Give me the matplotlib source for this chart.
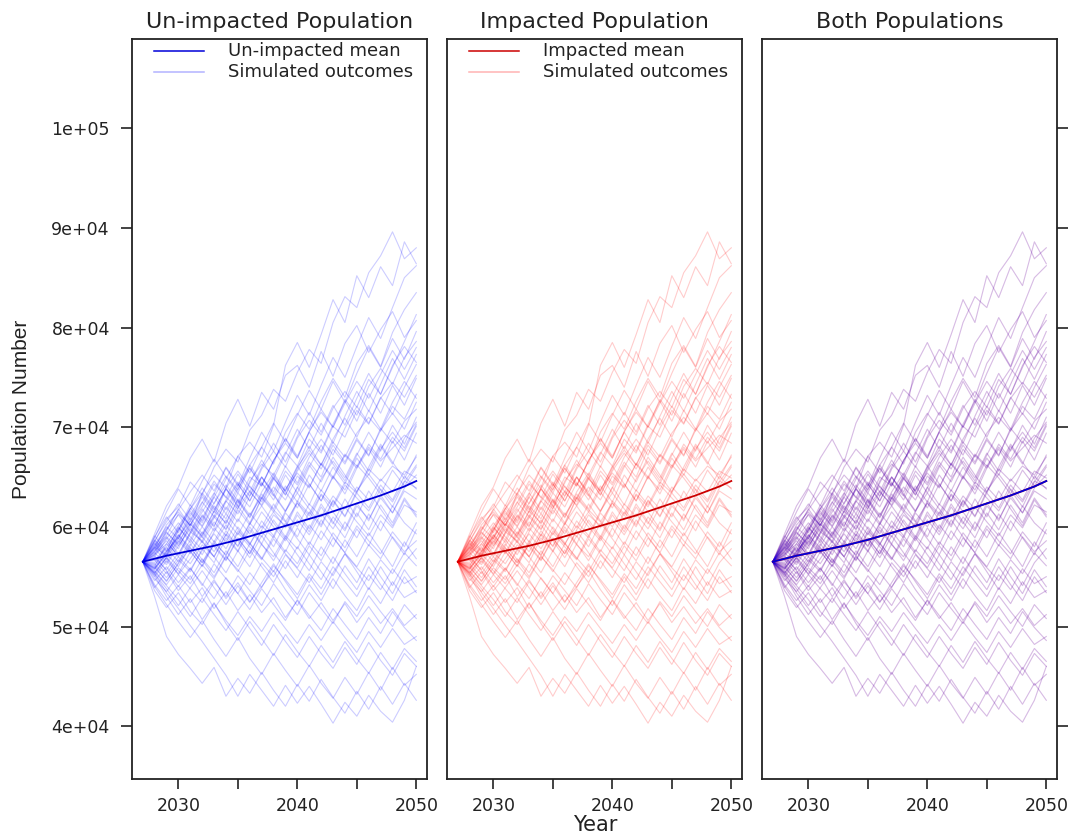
import matplotlib
matplotlib.use("Agg")
import matplotlib.pyplot as plt
import numpy as np
from matplotlib.ticker import FixedLocator, FuncFormatter

# years of the projection
years = list(range(2027, 2051))

# mean trajectories (thousands)
unimpacted_mean = [56.5, 56.8, 57.1, 57.35, 57.6, 57.85, 58.1, 58.4, 58.7, 59.05, 59.4, 59.75,
                   60.1, 60.45, 60.8, 61.15, 61.55, 61.95, 62.35, 62.75, 63.15, 63.6, 64.05, 64.6]
impacted_mean = [56.5, 56.8, 57.1, 57.35, 57.6, 57.85, 58.1, 58.4, 58.7, 59.05, 59.4, 59.75,
                 60.1, 60.45, 60.8, 61.15, 61.55, 61.95, 62.35, 62.75, 63.15, 63.6, 64.05, 64.6]

# simulated outcomes (thousands)
run_01 = [56.5, 58.5, 60.8, 62.0, 64.5, 63.2, 66.0, 67.8, 66.5, 69.7, 71.2, 73.8, 72.6, 75.5, 77.8, 76.4, 80.5, 83.1, 82.0, 85.5, 87.2, 89.6, 86.9, 88.0]
run_02 = [56.5, 59.3, 62.1, 64.0, 66.9, 68.8, 66.5, 70.4, 72.8, 70.1, 73.5, 71.8, 75.2, 76.2, 74.0, 77.6, 75.1, 78.4, 80.2, 77.5, 79.8, 81.6, 79.0, 80.7]
run_03 = [56.5, 57.8, 60.2, 61.5, 60.1, 63.4, 65.2, 63.9, 67.1, 68.5, 67.0, 70.2, 76.2, 78.5, 76.0, 79.3, 82.8, 80.5, 85.2, 83.0, 86.1, 84.2, 88.6, 86.4]
run_04 = [56.5, 58.0, 57.1, 59.6, 61.9, 60.4, 63.0, 65.1, 63.7, 66.2, 68.0, 66.3, 69.5, 71.4, 69.8, 72.6, 74.9, 73.0, 76.4, 78.2, 76.1, 79.5, 81.8, 83.5]
run_05 = [56.5, 57.2, 59.4, 58.3, 60.6, 62.5, 61.0, 63.8, 62.4, 65.0, 64.1, 66.7, 68.4, 66.9, 69.6, 71.5, 70.0, 72.8, 71.2, 74.1, 75.9, 74.3, 77.0, 78.6]
run_06 = [56.5, 55.8, 57.6, 59.9, 58.7, 61.2, 60.0, 62.7, 64.5, 63.1, 65.8, 67.6, 66.0, 68.9, 70.7, 69.2, 71.9, 73.6, 72.0, 74.8, 73.3, 76.2, 78.1, 76.5]
run_07 = [56.5, 57.9, 59.1, 61.3, 60.2, 62.0, 64.3, 63.0, 61.8, 64.6, 66.3, 65.2, 67.5, 66.1, 68.8, 67.4, 70.1, 69.0, 71.7, 70.3, 72.9, 74.5, 73.0, 75.2]
run_08 = [56.5, 56.0, 58.3, 57.2, 59.5, 58.6, 60.9, 62.6, 61.3, 63.5, 62.2, 64.8, 63.6, 66.0, 67.7, 66.2, 68.5, 67.0, 69.4, 71.0, 69.6, 72.1, 70.8, 73.3]
run_09 = [56.5, 58.7, 57.5, 59.0, 61.4, 60.0, 62.1, 60.8, 63.4, 62.0, 64.4, 63.1, 65.6, 64.2, 66.5, 65.0, 67.8, 66.3, 68.7, 67.1, 69.9, 68.4, 70.6, 71.8]
run_10 = [56.5, 57.4, 56.2, 58.1, 59.8, 58.4, 60.5, 59.1, 61.7, 60.2, 62.9, 61.5, 63.8, 65.4, 64.0, 66.3, 64.8, 67.2, 65.9, 68.3, 66.8, 69.0, 67.6, 70.1]
run_11 = [56.5, 55.4, 57.0, 58.6, 57.3, 59.2, 61.0, 59.7, 61.9, 63.6, 62.1, 64.0, 62.7, 65.1, 63.9, 66.4, 65.0, 67.3, 66.1, 68.0, 66.6, 67.9, 69.2, 68.4]
run_12 = [56.5, 56.9, 55.7, 57.4, 56.3, 58.2, 57.0, 59.3, 58.1, 60.4, 59.0, 61.2, 60.1, 62.6, 61.3, 63.7, 62.2, 64.5, 63.4, 65.8, 64.6, 66.1, 65.2, 67.0]
run_13 = [56.5, 58.2, 60.0, 58.8, 61.1, 63.2, 61.7, 63.9, 65.6, 64.0, 62.8, 65.2, 63.5, 61.9, 64.3, 62.6, 65.0, 63.7, 66.2, 64.9, 63.3, 65.7, 64.1, 66.0]
run_14 = [56.5, 55.0, 56.6, 55.3, 57.5, 56.1, 58.4, 57.2, 59.6, 58.3, 60.1, 58.9, 61.4, 60.0, 62.3, 61.0, 63.1, 61.8, 64.0, 62.7, 64.8, 63.5, 65.6, 64.9]
run_15 = [56.5, 57.6, 59.0, 57.8, 60.3, 59.1, 61.6, 60.4, 62.8, 61.2, 63.0, 61.7, 60.5, 62.4, 61.1, 63.3, 62.0, 64.2, 62.9, 61.6, 63.8, 62.5, 64.6, 63.9]
run_16 = [56.5, 56.3, 54.9, 56.7, 55.5, 57.8, 56.4, 58.9, 57.5, 59.7, 58.2, 57.0, 59.1, 57.8, 60.2, 58.7, 61.0, 59.6, 62.1, 60.8, 62.9, 61.4, 63.6, 62.8]
run_17 = [56.5, 57.0, 58.8, 60.4, 59.0, 57.7, 59.9, 58.5, 60.8, 59.3, 61.5, 60.0, 58.6, 60.7, 59.2, 61.3, 59.8, 62.0, 60.5, 59.1, 61.2, 59.9, 62.2, 61.5]
run_18 = [56.5, 55.6, 54.2, 55.9, 54.7, 56.8, 55.4, 57.6, 56.0, 58.3, 56.9, 55.5, 57.7, 56.3, 58.5, 57.1, 59.4, 57.9, 60.1, 58.6, 57.3, 59.5, 58.0, 60.4]
run_19 = [56.5, 58.4, 57.0, 59.2, 57.9, 56.4, 58.6, 57.1, 59.4, 58.0, 56.7, 58.8, 57.3, 55.9, 58.1, 56.6, 58.9, 57.4, 56.0, 58.2, 56.8, 59.0, 57.5, 58.6]
run_20 = [56.5, 55.2, 56.9, 55.6, 54.3, 56.2, 54.8, 57.0, 55.7, 54.2, 56.4, 55.0, 57.2, 55.8, 54.4, 56.5, 55.1, 57.3, 55.9, 54.6, 56.7, 55.3, 57.4, 56.1]
run_21 = [56.5, 54.6, 56.0, 54.4, 55.9, 54.1, 56.3, 54.8, 53.3, 55.4, 53.9, 56.1, 54.7, 53.2, 55.3, 53.8, 56.0, 54.5, 53.0, 55.2, 53.7, 55.8, 54.3, 55.0]
run_22 = [56.5, 53.9, 55.5, 53.6, 55.1, 53.0, 54.7, 52.8, 54.4, 52.5, 54.0, 55.6, 53.7, 52.1, 54.2, 52.6, 54.8, 53.1, 51.6, 53.9, 52.3, 54.5, 52.9, 53.6]
run_23 = [56.5, 54.2, 52.6, 54.1, 52.4, 53.9, 51.8, 53.5, 51.6, 53.2, 51.4, 52.9, 50.9, 52.6, 50.8, 52.4, 50.6, 52.3, 50.4, 52.0, 50.3, 51.8, 50.1, 51.2]
run_24 = [56.5, 53.6, 51.9, 53.4, 51.5, 50.2, 52.3, 50.6, 49.1, 51.0, 49.5, 51.4, 49.8, 48.3, 50.2, 48.6, 50.5, 48.9, 47.4, 49.5, 47.9, 49.8, 48.2, 49.0]
run_25 = [56.5, 55.1, 53.0, 51.2, 52.8, 50.7, 52.4, 50.3, 48.6, 50.5, 48.8, 47.1, 49.2, 47.5, 46.0, 48.1, 46.4, 48.5, 46.8, 45.3, 47.4, 45.7, 47.8, 46.5]
run_26 = [56.5, 54.0, 52.2, 50.5, 48.9, 50.6, 48.7, 47.0, 48.9, 46.8, 45.2, 47.3, 45.6, 44.0, 46.1, 44.3, 42.8, 44.9, 43.2, 45.4, 43.6, 45.9, 44.1, 45.2]
run_27 = [56.5, 55.3, 53.4, 51.8, 50.1, 48.5, 46.8, 45.1, 43.0, 45.2, 43.6, 42.0, 44.1, 42.3, 44.0, 42.2, 40.3, 42.4, 41.0, 43.1, 41.5, 40.4, 42.6, 46.0]
run_28 = [56.5, 53.0, 49.0, 47.2, 45.8, 44.3, 45.9, 43.0, 44.8, 43.3, 45.4, 43.6, 42.0, 44.2, 42.5, 44.7, 42.9, 41.3, 43.5, 41.7, 44.0, 42.2, 44.3, 42.6]
run_29 = [56.5, 58.9, 61.5, 63.8, 62.1, 64.6, 66.8, 65.0, 63.4, 65.9, 64.2, 66.6, 68.9, 67.1, 69.5, 71.8, 70.0, 72.4, 74.6, 72.9, 75.3, 77.7, 75.8, 78.0]
run_30 = [56.5, 57.3, 58.6, 57.0, 59.3, 61.1, 59.6, 62.0, 60.5, 63.1, 65.0, 63.5, 66.1, 64.4, 67.0, 68.8, 67.2, 69.9, 72.1, 70.4, 73.0, 71.3, 74.0, 76.3]
run_31 = [56.5, 56.6, 58.0, 59.7, 61.6, 60.1, 62.4, 64.2, 62.6, 60.9, 63.3, 61.8, 64.1, 62.5, 65.2, 63.6, 66.0, 64.3, 66.9, 65.2, 67.8, 69.5, 67.9, 70.3]
run_32 = [56.5, 55.9, 57.3, 56.0, 58.1, 60.0, 58.5, 60.7, 59.2, 61.4, 59.9, 62.3, 60.6, 59.0, 61.5, 60.0, 62.6, 61.0, 63.4, 61.9, 64.2, 62.7, 65.1, 63.8]
run_33 = [56.5, 54.8, 53.5, 55.2, 53.8, 52.4, 54.5, 53.0, 55.1, 53.6, 52.1, 54.3, 52.7, 51.2, 53.4, 51.8, 50.3, 52.5, 51.0, 53.1, 51.5, 50.0, 52.2, 50.8]
run_34 = [56.5, 57.1, 55.6, 54.0, 55.8, 54.3, 52.8, 54.9, 53.3, 51.7, 53.8, 52.2, 50.6, 52.7, 51.1, 49.6, 51.8, 50.2, 48.7, 50.9, 49.3, 51.5, 49.9, 48.6]
run_35 = [56.5, 55.5, 54.1, 52.7, 51.0, 52.9, 51.2, 49.6, 51.5, 49.8, 48.1, 50.2, 48.5, 46.9, 49.0, 47.3, 45.8, 47.9, 46.2, 48.4, 46.6, 45.1, 47.3, 46.0]
run_36 = [56.5, 58.1, 59.8, 61.7, 63.5, 65.2, 63.6, 66.0, 64.3, 62.6, 65.0, 63.2, 61.5, 63.9, 66.2, 64.5, 67.0, 65.2, 63.5, 66.0, 68.3, 66.5, 64.8, 67.2]
run_37 = [56.5, 55.7, 57.4, 59.2, 57.6, 56.0, 58.3, 60.2, 58.6, 56.9, 59.1, 57.4, 55.8, 58.0, 56.3, 54.7, 57.0, 55.3, 53.7, 56.0, 54.2, 52.6, 55.0, 53.4]
run_38 = [56.5, 58.3, 56.7, 58.8, 60.9, 59.3, 61.6, 63.8, 62.0, 64.4, 66.7, 64.8, 67.3, 69.8, 67.8, 70.4, 68.4, 71.1, 73.6, 71.6, 74.3, 76.9, 74.8, 77.3]
run_39 = [56.5, 57.7, 59.5, 58.1, 60.0, 58.5, 57.0, 59.2, 57.6, 60.0, 58.3, 60.7, 59.0, 61.5, 59.8, 62.3, 60.5, 58.9, 61.4, 59.7, 62.2, 60.4, 62.9, 61.2]
run_40 = [56.5, 56.1, 54.5, 56.4, 58.3, 56.7, 55.0, 57.1, 55.5, 57.7, 56.0, 54.4, 56.6, 54.9, 57.2, 55.5, 53.8, 56.1, 54.4, 56.8, 55.0, 53.3, 55.7, 54.0]
run_41 = [56.5, 59.0, 61.0, 59.4, 61.8, 63.9, 62.3, 64.8, 67.1, 65.4, 68.0, 70.4, 68.5, 71.2, 73.7, 71.8, 74.6, 72.5, 75.4, 78.0, 76.0, 78.9, 76.8, 79.6]
run_42 = [56.5, 55.3, 53.8, 52.1, 53.9, 55.6, 53.9, 52.2, 54.1, 52.4, 54.4, 56.3, 54.5, 52.8, 55.0, 53.2, 55.4, 57.3, 55.5, 53.7, 56.0, 54.1, 56.4, 57.8]
run_43 = [56.5, 58.6, 57.2, 59.7, 62.2, 60.6, 63.3, 65.9, 64.1, 66.9, 69.5, 67.6, 70.5, 73.2, 71.2, 74.2, 77.0, 75.0, 78.1, 81.0, 78.9, 82.0, 85.0, 86.2]
run_44 = [56.5, 57.5, 59.6, 61.8, 60.1, 62.4, 64.6, 62.9, 65.3, 63.5, 66.0, 68.4, 66.5, 69.1, 71.5, 69.5, 72.2, 70.2, 72.9, 75.4, 73.3, 76.0, 78.6, 81.3]
run_45 = [56.5, 57.9, 56.4, 58.5, 60.3, 58.9, 61.2, 59.8, 62.3, 64.1, 62.5, 64.9, 63.2, 65.6, 67.4, 65.8, 68.2, 66.5, 68.9, 67.2, 69.7, 71.4, 69.8, 72.5]
run_46 = [56.5, 56.4, 57.9, 56.5, 58.7, 57.2, 59.5, 61.3, 59.8, 58.2, 60.6, 59.1, 61.6, 63.4, 61.8, 60.2, 62.7, 61.1, 63.6, 65.3, 63.7, 62.0, 64.5, 66.2]
run_47 = [56.5, 58.0, 59.7, 61.2, 59.5, 61.8, 60.1, 62.5, 64.3, 62.6, 65.0, 63.3, 61.6, 64.0, 62.2, 64.8, 66.6, 64.9, 67.4, 65.6, 68.1, 66.3, 68.9, 70.5]
run_48 = [56.5, 55.9, 54.6, 56.3, 57.9, 56.4, 58.2, 56.7, 58.9, 57.3, 59.6, 58.0, 60.4, 58.8, 57.2, 59.6, 58.0, 60.5, 58.9, 61.3, 59.6, 62.1, 60.4, 59.3]
run_49 = [56.5, 57.2, 58.3, 60.1, 61.8, 63.4, 61.9, 60.3, 62.7, 61.0, 63.5, 65.4, 63.6, 66.1, 64.3, 62.6, 65.1, 63.3, 65.9, 67.8, 66.0, 68.6, 66.7, 69.4]
run_50 = [56.5, 55.8, 57.2, 58.9, 57.4, 59.5, 58.0, 56.6, 58.8, 57.3, 59.7, 61.5, 59.9, 62.4, 60.7, 63.2, 61.5, 59.8, 62.4, 60.6, 63.2, 61.4, 63.9, 65.2]
run_51 = [56.5, 58.6, 60.5, 62.3, 60.7, 63.0, 61.4, 63.9, 62.1, 60.4, 62.9, 65.0, 63.2, 65.8, 68.1, 66.2, 68.8, 70.9, 69.0, 71.7, 69.8, 72.5, 74.6, 72.9]
run_52 = [56.5, 56.7, 55.3, 57.0, 55.7, 57.6, 59.3, 57.8, 60.0, 58.4, 56.8, 59.1, 57.5, 59.9, 58.2, 60.7, 59.0, 57.4, 59.8, 58.1, 60.6, 58.9, 57.2, 59.7]
run_53 = [56.5, 57.5, 58.9, 57.3, 59.4, 61.5, 63.4, 61.7, 64.1, 66.2, 64.4, 62.7, 65.2, 63.4, 66.0, 68.2, 66.3, 64.6, 67.2, 69.5, 67.6, 70.2, 68.3, 71.0]
run_54 = [56.5, 56.2, 57.5, 59.0, 60.6, 59.0, 57.5, 59.6, 58.0, 60.3, 62.1, 60.4, 58.8, 61.2, 59.5, 62.0, 60.3, 62.8, 61.0, 63.6, 61.8, 60.1, 62.7, 61.0]
run_55 = [56.5, 59.1, 57.6, 60.0, 58.4, 60.9, 63.0, 61.3, 63.8, 65.9, 64.1, 66.6, 68.8, 66.9, 69.5, 67.6, 70.3, 72.6, 70.6, 73.4, 71.4, 74.2, 72.2, 74.9]
run_56 = [56.5, 55.4, 56.9, 55.2, 56.8, 58.6, 57.0, 55.4, 57.6, 56.0, 58.3, 56.6, 58.9, 57.2, 55.6, 58.0, 56.3, 58.7, 57.0, 59.4, 57.7, 56.0, 58.5, 56.8]

runs = [run_01, run_02, run_03, run_04, run_05, run_06, run_07, run_08, run_09, run_10, run_11,
        run_12, run_13, run_14, run_15, run_16, run_17, run_18, run_19, run_20, run_21, run_22,
        run_23, run_24, run_25, run_26, run_27, run_28, run_29, run_30, run_31, run_32, run_33,
        run_34, run_35, run_36, run_37, run_38, run_39, run_40, run_41, run_42, run_43, run_44,
        run_45, run_46, run_47, run_48, run_49, run_50, run_51, run_52, run_53, run_54, run_55,
        run_56]

titles = ["Un-impacted Population", "Impacted Population", "Both Populations"]
y_ticks = [40000, 50000, 60000, 70000, 80000, 90000, 100000]
x_ticks = [2030, 2035, 2040, 2045, 2050]

BLUE = (0.0, 0.0, 1.0)
RED = (1.0, 0.0, 0.0)
BLUE_MEAN = "#0000d8"
RED_MEAN = "#cc0000"
INK = "#222222"


def draw_runs(ax, color, alpha):
    for run in runs:
        ax.plot(years, np.array(run) * 1000, color=color, alpha=alpha, lw=0.8)


def draw_legend(ax, mean_color, sim_color, mean_label):
    for yy, col, a, label in [(0.984, mean_color, 1.0, mean_label),
                              (0.9555, sim_color, 0.3, "Simulated outcomes")]:
        ax.plot([0.075, 0.245], [yy, yy], transform=ax.transAxes, color=col,
                alpha=a, lw=1.1, clip_on=False)
        ax.text(0.327, yy, label, transform=ax.transAxes, ha="left", va="center",
                fontsize=13, color=INK, clip_on=True)


W, H = 1073, 838
fig = plt.figure(figsize=(W / 100, H / 100), dpi=100)
lefts = [132, 447, 762]
axes = [fig.add_axes([l / W, 1 - 779 / H, 295 / W, 740 / H]) for l in lefts]

ax1, ax2, ax3 = axes
draw_runs(ax1, BLUE, 0.2)
ax1.plot(years, np.array(unimpacted_mean) * 1000, color=BLUE_MEAN, lw=1.3)
draw_legend(ax1, BLUE_MEAN, BLUE, "Un-impacted mean")

draw_runs(ax2, RED, 0.2)
ax2.plot(years, np.array(impacted_mean) * 1000, color=RED_MEAN, lw=1.3)
draw_legend(ax2, RED_MEAN, RED, "Impacted mean")

# both populations: the two sets overlap and mix to purple
draw_runs(ax3, RED, 0.12)
draw_runs(ax3, BLUE, 0.16)
ax3.plot(years, np.array(impacted_mean) * 1000, color=RED_MEAN, lw=1.3)
ax3.plot(years, np.array(unimpacted_mean) * 1000, color=BLUE_MEAN, lw=1.3)

for i, (ax, title) in enumerate(zip(axes, titles)):
    ax.set_xlim(2026.1, 2050.9)
    ax.set_ylim(34700, 108950)
    ax.xaxis.set_major_locator(FixedLocator(x_ticks))
    ax.xaxis.set_major_formatter(FuncFormatter(lambda v, p: f"{int(round(v))}" if int(round(v)) % 10 == 0 else ""))
    ax.yaxis.set_major_locator(FixedLocator(y_ticks))
    ax.yaxis.set_major_formatter(FuncFormatter(lambda v, p: "%.0e" % v))
    ax.tick_params(axis="x", direction="out", length=7, width=1.2, pad=6,
                   labelsize=12.5, colors=INK, top=False)
    ax.tick_params(axis="y", direction="out", length=8, width=1.2, pad=8,
                   labelsize=12.5, colors=INK,
                   left=(i == 0), labelleft=(i == 0), right=(i == 2), labelright=False)
    for sp in ax.spines.values():
        sp.set_linewidth(1.3)
        sp.set_color(INK)
    ax.text(0.5, 1.015, title, transform=ax.transAxes, ha="center", va="baseline",
            fontsize=16, color=INK)

fig.text(22 / W, 1 - 409 / H, "Population Number", rotation=90, ha="center", va="center",
         fontsize=15, family="Liberation Sans", color=INK)
fig.text(595 / W, 1 - 825 / H, "Year", ha="center", va="center", fontsize=15, color=INK)

fig.savefig("out.png", dpi=100)
